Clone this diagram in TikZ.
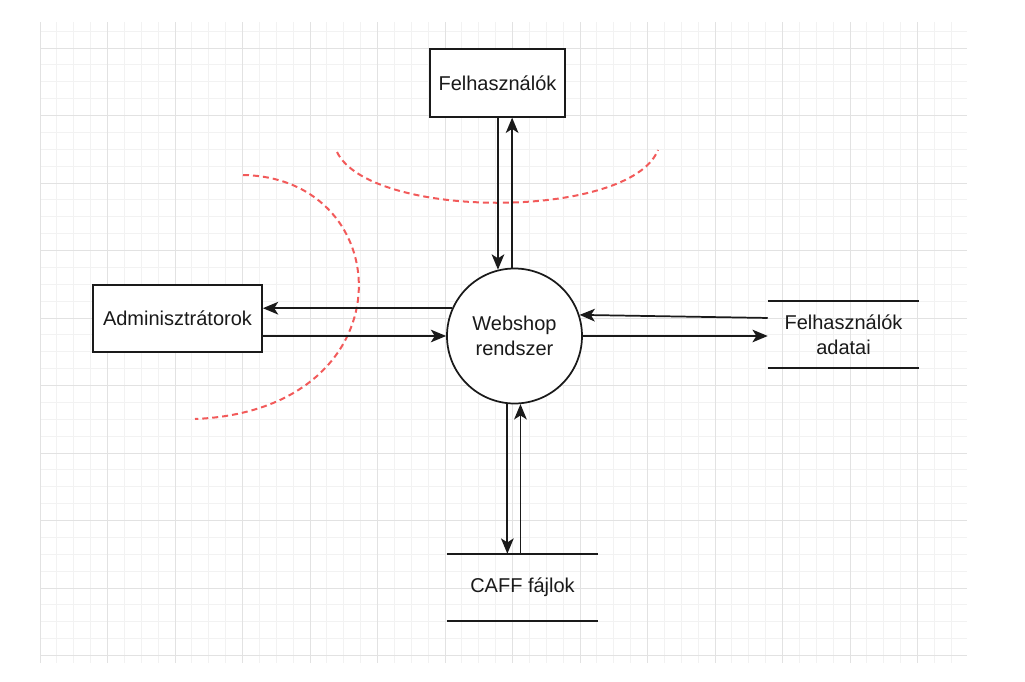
\documentclass[tikz,border=0pt]{standalone}
\usepackage{fontspec}
\setmainfont{Liberation Sans}
\usetikzlibrary{arrows.meta}
\definecolor{minorgray}{HTML}{F2F2F2}
\definecolor{majorgray}{HTML}{E2E2E2}
\definecolor{borderred}{HTML}{F25A5A}
\definecolor{inkblack}{HTML}{1A1A1A}

\begin{document}
\begin{tikzpicture}[x=0.75pt,y=-0.75pt,
  every node/.style={font=\fontsize{15}{18.75}\selectfont, text=inkblack},
  entity/.style={draw=inkblack, line width=1.3pt, fill=white, minimum height=50.6pt, inner sep=0pt},
  process/.style={circle, draw=inkblack, line width=1.3pt, fill=white, minimum size=101.25pt, inner sep=0pt, align=center},
  store/.style={minimum width=113.25pt, minimum height=50.25pt, inner sep=0pt, align=center},
  flow/.style={draw=inkblack, line width=1.3pt, -{Stealth[length=11.5pt,width=9.5pt,inset=3pt]}},
  boundary/.style={draw=borderred, line width=1.5pt, dash pattern=on 4.5pt off 3pt}]

\useasboundingbox (0,0) rectangle (1025,682);

% --- Grid ---
\foreach \i in {0,...,54} \draw[minorgray, line width=0.75pt] ({40+\i*16.875},22) -- ({40+\i*16.875},663);
\foreach \j in {-1,...,36} \draw[minorgray, line width=0.75pt] (40,{48+\j*16.875}) -- (967,{48+\j*16.875});
\foreach \i in {0,...,13} \draw[majorgray, line width=0.75pt] ({40+\i*67.5},22) -- ({40+\i*67.5},663);
\foreach \j in {0,...,9} \draw[majorgray, line width=0.75pt] (40,{48+\j*67.5}) -- (967,{48+\j*67.5});

% --- Trust boundaries ---
\draw[boundary] (337,152) .. controls (370,220) and (630,220) .. (658,150);
\draw[boundary] (243,175) .. controls (400,178) and (410,410) .. (195,419);

% --- Nodes ---
\node[entity, minimum width=101.25pt] (users) at (497.5,83) {Felhasználók};
\node[entity, minimum width=126.75pt] (admins) at (177.5,318.5) {Adminisztrátorok};
\node[process] (ws) at (514.5,336) {Webshop\\rendszer};
\node[store] (userdata) at (843.5,334.5) {Felhasználók\\adatai};
\node[store] (caff) at (522.5,587.5) {CAFF fájlok};

% data store lines
\foreach \s in {userdata,caff} {
  \draw[inkblack, line width=1.3pt] (\s.north west) -- (\s.north east);
  \draw[inkblack, line width=1.3pt] (\s.south west) -- (\s.south east);
}

% --- Flows ---
\draw[flow] (users.south -| ws.104) -- (ws.104);
\draw[flow] (ws.92) -- (users.south -| ws.92);

\draw[flow] (ws.156) -- (admins.east |- ws.156);
\draw[flow] (admins.east |- ws.west) -- (ws.west);

\draw[flow] ([yshift=12.4pt]userdata.west) -- (ws.18);
\draw[flow] (ws.east) -- (userdata.west |- ws.east);

\draw[flow] (ws.264) -- (caff.north -| ws.264);
\draw[flow] (caff.north -| ws.275) -- (ws.275);

\end{tikzpicture}
\end{document}
